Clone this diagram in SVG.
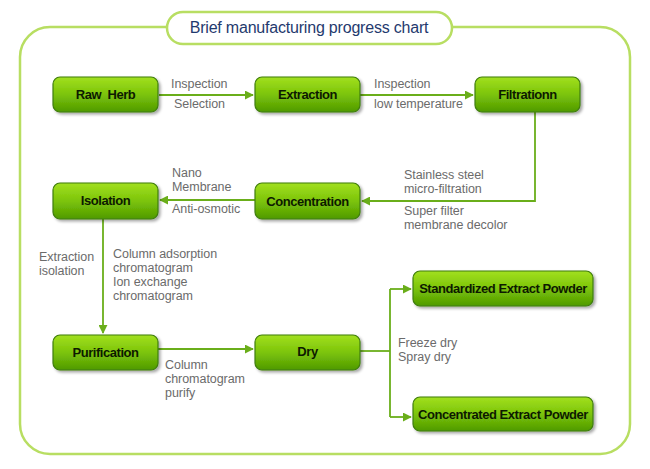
<svg xmlns="http://www.w3.org/2000/svg" width="650" height="469" viewBox="0 0 650 469">
<defs>
<linearGradient id="g" x1="0" y1="0" x2="0" y2="1">
<stop offset="0" stop-color="#a2e01e"/>
<stop offset="0.5" stop-color="#7cc40a"/>
<stop offset="1" stop-color="#4f9a02"/>
</linearGradient>
<filter id="sh" x="-10%" y="-20%" width="130%" height="160%">
<feGaussianBlur in="SourceAlpha" stdDeviation="1.5"/>
<feOffset dx="1.5" dy="2" result="b"/>
<feComponentTransfer><feFuncA type="linear" slope="0.35"/></feComponentTransfer>
<feMerge><feMergeNode/><feMergeNode in="SourceGraphic"/></feMerge>
</filter>
<marker id="ar" viewBox="0 0 10 10" refX="9" refY="5" markerWidth="5" markerHeight="5" orient="auto">
<path d="M0,0 L10,5 L0,10 z" fill="#6aae1a"/>
</marker>
</defs>
<style>
.node rect{fill:url(#g);stroke:#3f7d0c;stroke-width:1.2;filter:url(#sh)}
.node text{font-family:"Liberation Sans",Arial,sans-serif;font-weight:bold;font-size:13px;fill:#0d1a00;text-anchor:middle;letter-spacing:-0.45px;white-space:pre}
.lbl{font-family:"Liberation Sans",Arial,sans-serif;font-size:12.5px;fill:#6b6b6b;letter-spacing:-0.05px}
.c{fill:none;stroke:#6aae1a;stroke-width:1.8}
</style>
<rect width="650" height="469" fill="#ffffff"/>
<rect x="20" y="27" width="610" height="427" rx="30" ry="30" fill="none" stroke="#b8de62" stroke-width="2.5"/>
<g id="title">
<rect x="167" y="12" width="285" height="32" rx="16" ry="16" fill="#ffffff" stroke="#b8de62" stroke-width="2.5"/>
<text x="309" y="33" font-family="Liberation Sans,Arial,sans-serif" font-size="16" letter-spacing="-0.2" fill="#1f3a6e" text-anchor="middle">Brief manufacturing progress chart</text>
</g>
<g id="connectors">
<path class="c" d="M159,95 H253" marker-end="url(#ar)"/>
<path class="c" d="M360,95 H473" marker-end="url(#ar)"/>
<path class="c" d="M535,112 V201 H362" marker-end="url(#ar)"/>
<path class="c" d="M255,200 H160" marker-end="url(#ar)"/>
<path class="c" d="M103,219 V333" marker-end="url(#ar)"/>
<path class="c" d="M158,349 H253" marker-end="url(#ar)"/>
<path class="c" d="M360,351 H390"/>
<path class="c" d="M390,289 V417"/>
<path class="c" d="M390,289 H411" marker-end="url(#ar)"/>
<path class="c" d="M390,417 H411" marker-end="url(#ar)"/>
</g>
<g id="labels">
<text x="171" y="88" class="lbl">Inspection</text>
<text x="174" y="108" class="lbl">Selection</text>
<text x="374" y="88" class="lbl">Inspection</text>
<text x="374" y="108" class="lbl">low temperature</text>
<text x="172" y="177" class="lbl">Nano</text>
<text x="172" y="191" class="lbl">Membrane</text>
<text x="172" y="213" class="lbl">Anti-osmotic</text>
<text x="404" y="179" class="lbl">Stainless steel</text>
<text x="404" y="193" class="lbl">micro-filtration</text>
<text x="404" y="215" class="lbl">Super filter</text>
<text x="404" y="229" class="lbl">membrane decolor</text>
<text x="39" y="261" class="lbl">Extraction</text>
<text x="39" y="275" class="lbl">isolation</text>
<text x="113" y="258" class="lbl">Column adsorption</text>
<text x="113" y="272" class="lbl">chromatogram</text>
<text x="113" y="286" class="lbl">Ion exchange</text>
<text x="113" y="300" class="lbl">chromatogram</text>
<text x="165" y="369" class="lbl">Column</text>
<text x="165" y="383" class="lbl">chromatogram</text>
<text x="165" y="397" class="lbl">purify</text>
<text x="398" y="347" class="lbl">Freeze dry</text>
<text x="398" y="361" class="lbl">Spray dry</text>
</g>
<g id="raw-herb" class="node"><rect x="53" y="77" width="105" height="35" rx="7"/><text x="105.5" y="99" xml:space="preserve">Raw  Herb</text></g>
<g id="extraction" class="node"><rect x="255" y="77" width="105" height="35" rx="7"/><text x="307.5" y="99">Extraction</text></g>
<g id="filtrationn" class="node"><rect x="475" y="77" width="105" height="35" rx="7"/><text x="527.5" y="99">Filtrationn</text></g>
<g id="isolation" class="node"><rect x="53" y="183" width="105" height="36" rx="7"/><text x="105.5" y="205">Isolation</text></g>
<g id="concentration" class="node"><rect x="255" y="183" width="105" height="36" rx="7"/><text x="307.5" y="206">Concentration</text></g>
<g id="standardized" class="node"><rect x="413" y="271" width="180" height="35" rx="7"/><text x="503" y="293">Standardized Extract Powder</text></g>
<g id="purification" class="node"><rect x="53" y="335" width="105" height="35" rx="7"/><text x="105.5" y="357">Purification</text></g>
<g id="dry" class="node"><rect x="255" y="335" width="105" height="35" rx="7"/><text x="307.5" y="356">Dry</text></g>
<g id="concentrated" class="node"><rect x="413" y="397" width="180" height="34" rx="7"/><text x="503" y="419">Concentrated Extract Powder</text></g>
</svg>
